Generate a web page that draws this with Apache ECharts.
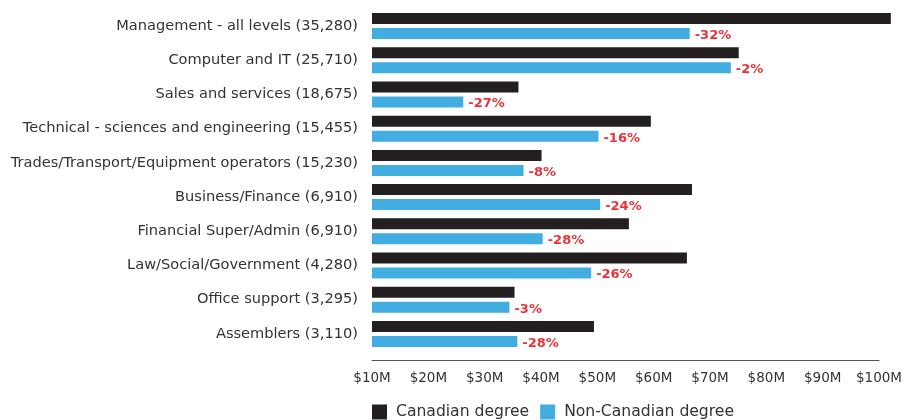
<!DOCTYPE html>
<html>
<head>
<meta charset="utf-8">
<script src="https://cdn.jsdelivr.net/npm/echarts@6/dist/echarts.min.js"></script>
<style>
html,body{margin:0;padding:0;background:#fff;}
#chart{width:905px;height:420px;}
</style>
</head>
<body>
<div id="chart"></div>
<script>
var categories = [
  "Management - all levels (35,280)",
  "Computer and IT (25,710)",
  "Sales and services (18,675)",
  "Technical - sciences and engineering (15,455)",
  "Trades/Transport/Equipment operators (15,230)",
  "Business/Finance (6,910)",
  "Financial Super/Admin (6,910)",
  "Law/Social/Government (4,280)",
  "Office support (3,295)",
  "Assemblers (3,110)"
];
var canadianDegree = [102.1, 75.1, 36.0, 59.5, 40.1, 66.8, 55.6, 65.9, 35.3, 49.4];
var nonCanadianDegree = [66.4, 73.7, 26.2, 50.2, 36.9, 50.5, 40.3, 48.9, 34.4, 35.8];
var gapLabels = ["-32%", "-2%", "-27%", "-16%", "-8%", "-24%", "-28%", "-26%", "-3%", "-28%"];
var tickValues = [10, 20, 30, 40, 50, 60, 70, 80, 90, 100];

var FONT = "DejaVu Sans";
var chart = echarts.init(document.getElementById('chart'), null, {renderer: 'canvas'});
chart.setOption({
  animation: false,
  textStyle: {fontFamily: FONT},
  legend: {
    data: ["Canadian degree", "Non-Canadian degree"],
    left: 372, top: 404, padding: 0,
    icon: 'rect', itemWidth: 15, itemHeight: 15, itemGap: 11,
    textStyle: {fontFamily: FONT, fontSize: 15.6, color: '#333', padding: [0, 0, 0, 4]}
  },
  grid: {left: 372, right: 25, top: 9, height: 342, containLabel: false},
  xAxis: {
    type: 'value', min: 10, max: 100, interval: 10, startValue: 10,
    offset: 9,
    splitLine: {show: false},
    axisLine: {show: true, lineStyle: {color: '#555', width: 1}},
    axisTick: {show: false},
    axisLabel: {
      margin: 11, fontFamily: FONT, fontSize: 13.5, color: '#333',
      formatter: function (v) { return tickValues.indexOf(v) >= 0 ? '$' + v + 'M' : ''; }
    }
  },
  yAxis: {
    type: 'category', data: categories, inverse: true,
    axisLine: {show: false}, axisTick: {show: false},
    axisLabel: {margin: 14, fontFamily: FONT, fontSize: 14.6, color: '#333', padding: [0, 0, 4, 0]}
  },
  series: [
    {
      name: "Canadian degree", type: 'bar', data: canadianDegree,
      barWidth: 11, barGap: '36%', clip: false,
      itemStyle: {color: '#231f20'}
    },
    {
      name: "Non-Canadian degree", type: 'bar', data: nonCanadianDegree,
      barWidth: 11, barGap: '36%', clip: false,
      itemStyle: {color: '#41ade1'},
      label: {
        show: true, position: 'right', distance: 5, offset: [0, 2],
        fontFamily: FONT, fontSize: 13, fontWeight: 'bold', color: '#e8333a',
        formatter: function (p) { return gapLabels[p.dataIndex]; }
      }
    }
  ]
});
</script>
</body>
</html>
